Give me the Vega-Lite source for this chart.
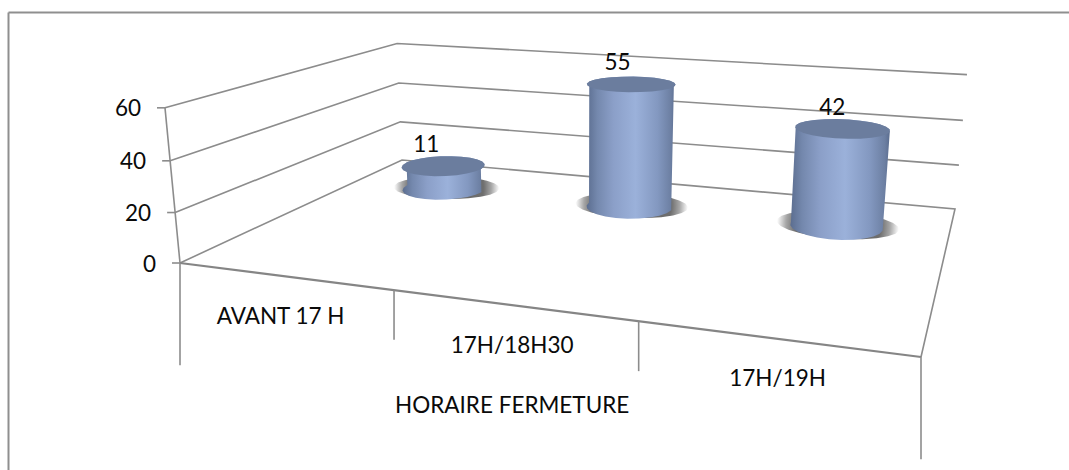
{
"$schema":"https://vega.github.io/schema/vega-lite/v6.json",
"width":1061,"height":458,
"padding":{"left":8,"top":12,"right":0,"bottom":0},
"autosize":"none",
"background":"white",
"config":{"view":{"stroke":null},"text":{"font":"Lato","fontSize":22.5,"color":"#0a0a0a"}},
"datasets":{
"bars":[{"cat":"AVANT 17 H","value":11},{"cat":"17H/18H30","value":55},{"cat":"17H/19H","value":42}],
"frame":[
{"path":"g60","seq":0,"u":0,"v":0,"val":60},{"path":"g60","seq":1,"u":0,"v":1,"val":60},{"path":"g60","seq":2,"u":3,"v":1,"val":60},
{"path":"g40","seq":0,"u":0,"v":0,"val":40},{"path":"g40","seq":1,"u":0,"v":1,"val":40},{"path":"g40","seq":2,"u":3,"v":1,"val":40},
{"path":"g20","seq":0,"u":0,"v":0,"val":20},{"path":"g20","seq":1,"u":0,"v":1,"val":20},{"path":"g20","seq":2,"u":3,"v":1,"val":20},
{"path":"g0","seq":0,"u":0,"v":0,"val":0},{"path":"g0","seq":1,"u":0,"v":1,"val":0},{"path":"g0","seq":2,"u":3,"v":1,"val":0},{"path":"g0","seq":3,"u":3,"v":0,"val":0},
{"path":"wall","seq":0,"u":0,"v":0,"val":0},{"path":"wall","seq":1,"u":0,"v":0,"val":60}
],
"front":[{"path":"front","seq":0,"u":0,"v":0,"val":0},{"path":"front","seq":1,"u":3,"v":0,"val":0}],
"valueTicks":[{"u":0,"v":0,"val":0},{"u":0,"v":0,"val":20},{"u":0,"v":0,"val":40},{"u":0,"v":0,"val":60}],
"catTicks":[{"u":0,"v":0,"val":0,"drop":-42},{"u":1,"v":0,"val":0,"drop":-19},{"u":2,"v":0,"val":0,"drop":-18},{"u":3,"v":0,"val":0,"drop":-35}]
},
"encoding":{
"x":{"field":"sx","type":"quantitative","title":null,"scale":{"domain":[8,1069]},"axis":{"orient":"top","labels":false,"ticks":false,"grid":false,"domainColor":"#8f8f8f","domainWidth":2}},
"y":{"field":"sy","type":"quantitative","title":null,"scale":{"domain":[470,12]},"axis":{"orient":"left","labels":false,"ticks":false,"grid":false,"domainColor":"#8f8f8f","domainWidth":2}}
},
"layer":[
{"data":{"name":"frame"},
"transform":[
{"calculate":"1-0.18768*datum.u/3+0.3515*datum.v-0.03606*datum.val/60","as":"w"},
{"calculate":"(180+568.15*datum.u/3+363.3*datum.v-20.95*datum.val/60)/datum.w","as":"sx"},
{"calculate":"(263+27*datum.u/3-46.76*datum.v-159.06*datum.val/60)/datum.w","as":"sy"}],
"mark":{"type":"line","color":"#8c8c8c","strokeWidth":1.6},
"encoding":{"detail":{"field":"path"},"order":{"field":"seq","type":"quantitative"}}},
{"data":{"name":"front"},
"transform":[
{"calculate":"1-0.18768*datum.u/3+0.3515*datum.v-0.03606*datum.val/60","as":"w"},
{"calculate":"(180+568.15*datum.u/3+363.3*datum.v-20.95*datum.val/60)/datum.w","as":"sx"},
{"calculate":"(263+27*datum.u/3-46.76*datum.v-159.06*datum.val/60)/datum.w","as":"sy"}],
"mark":{"type":"line","color":"#858585","strokeWidth":2.2},
"encoding":{"detail":{"field":"path"},"order":{"field":"seq","type":"quantitative"}}},
{"data":{"name":"valueTicks"},
"transform":[
{"calculate":"1-0.18768*datum.u/3+0.3515*datum.v-0.03606*datum.val/60","as":"w"},
{"calculate":"(180+568.15*datum.u/3+363.3*datum.v-20.95*datum.val/60)/datum.w","as":"sx"},
{"calculate":"(263+27*datum.u/3-46.76*datum.v-159.06*datum.val/60)/datum.w","as":"sy"},
{"calculate":"datum.sx-8","as":"sxEnd"}],
"mark":{"type":"rule","color":"#8c8c8c","strokeWidth":1.6},
"encoding":{"x2":{"field":"sxEnd"}}},
{"data":{"name":"catTicks"},
"transform":[
{"calculate":"1-0.18768*datum.u/3+0.3515*datum.v-0.03606*datum.val/60","as":"w"},
{"calculate":"(180+568.15*datum.u/3+363.3*datum.v-20.95*datum.val/60)/datum.w","as":"sx"},
{"calculate":"(263+27*datum.u/3-46.76*datum.v-159.06*datum.val/60)/datum.w","as":"sy"},
{"calculate":"(263+27*datum.u/3-159.06*datum.drop/60)/(1-0.18768*datum.u/3-0.03606*datum.drop/60)","as":"syEnd"}],
"mark":{"type":"rule","color":"#8c8c8c","strokeWidth":1.6},
"encoding":{"y2":{"field":"syEnd"}}},
{"data":{"name":"valueTicks"},
"transform":[
{"calculate":"1-0.18768*datum.u/3+0.3515*datum.v-0.03606*datum.val/60","as":"w"},
{"calculate":"(180+568.15*datum.u/3+363.3*datum.v-20.95*datum.val/60)/datum.w","as":"sx"},
{"calculate":"(263+27*datum.u/3-46.76*datum.v-159.06*datum.val/60)/datum.w","as":"sy"}],
"mark":{"type":"text","align":"right","baseline":"middle","dx":-24,"dy":1.5},
"encoding":{"text":{"field":"val","type":"quantitative"}}},
{"data":{"name":"bars"},
"transform":[
{"calculate":"indexof(['AVANT 17 H','17H/18H30','17H/19H'],datum.cat)+0.5","as":"u"},
{"calculate":"0","as":"v"},{"calculate":"0","as":"val"},
{"calculate":"1-0.18768*datum.u/3+0.3515*datum.v-0.03606*datum.val/60","as":"w"},
{"calculate":"(180+568.15*datum.u/3+363.3*datum.v-20.95*datum.val/60)/datum.w+3*(datum.u-1.5)","as":"sx"},
{"calculate":"(263+27*datum.u/3-46.76*datum.v-159.06*datum.val/60)/datum.w","as":"sy"}],
"mark":{"type":"text","align":"center","baseline":"middle","dy":41},
"encoding":{"text":{"field":"cat","type":"nominal"}}},
{"data":{"values":[{"title":"HORAIRE FERMETURE","u":1.5,"v":0,"val":0}]},
"transform":[
{"calculate":"1-0.18768*datum.u/3+0.3515*datum.v-0.03606*datum.val/60","as":"w"},
{"calculate":"(180+568.15*datum.u/3+363.3*datum.v-20.95*datum.val/60)/datum.w","as":"sx"},
{"calculate":"(263+27*datum.u/3-46.76*datum.v-159.06*datum.val/60)/datum.w","as":"sy"}],
"mark":{"type":"text","align":"center","baseline":"middle","dy":101},
"encoding":{"text":{"field":"title","type":"nominal"}}},
{"data":{"name":"bars"},
"transform":[
{"calculate":"indexof(['AVANT 17 H','17H/18H30','17H/19H'],datum.cat)+0.5","as":"u0"},
{"calculate":"[0,15,30,45,60,75,90,105,120,135,150,165,180,195,210,225,240,255,270,285,300,315,330,345]","as":"theta"},
{"flatten":["theta"]},
{"calculate":"datum.u0+0.28*cos(datum.theta*PI/180)","as":"u"},
{"calculate":"0.765-0.115*sin(datum.theta*PI/180)","as":"v"},
{"calculate":"0","as":"val"},
{"calculate":"1-0.18768*datum.u/3+0.3515*datum.v-0.03606*datum.val/60","as":"w"},
{"calculate":"(180+568.15*datum.u/3+363.3*datum.v-20.95*datum.val/60)/datum.w","as":"sx"},
{"calculate":"(263+27*datum.u/3-46.76*datum.v-159.06*datum.val/60)/datum.w","as":"sy"}],
"mark":{"type":"line","interpolate":"linear-closed","stroke":null,"fill":{"gradient":"radial","x1":0.5,"y1":0.5,"r1":0,"x2":0.5,"y2":0.5,"r2":0.5,"stops":[{"offset":0,"color":"#666666"},{"offset":0.7,"color":"#6e6e6e"},{"offset":0.85,"color":"#a6a6a6"},{"offset":1,"color":"#ffffff"}]}},
"encoding":{"detail":{"field":"cat"},"order":{"field":"theta","type":"quantitative"}}},
{"data":{"name":"bars"},
"transform":[
{"calculate":"indexof(['AVANT 17 H','17H/18H30','17H/19H'],datum.cat)+0.5","as":"u0"},
{"calculate":"[0,15,30,45,60,75,90,105,120,135,150,165,180,180.01,195,210,225,240,255,270,285,300,315,330,345,360]","as":"theta"},
{"flatten":["theta"]},
{"calculate":"datum.u0+0.21*cos(datum.theta*PI/180)","as":"u"},
{"calculate":"0.75-0.11*sin(datum.theta*PI/180)","as":"v"},
{"calculate":"datum.theta<=180?0:datum.value","as":"val"},
{"calculate":"1-0.18768*datum.u/3+0.3515*datum.v-0.03606*datum.val/60","as":"w"},
{"calculate":"(180+568.15*datum.u/3+363.3*datum.v-20.95*datum.val/60)/datum.w","as":"sx"},
{"calculate":"(263+27*datum.u/3-46.76*datum.v-159.06*datum.val/60)/datum.w","as":"sy"}],
"mark":{"type":"line","interpolate":"linear-closed","stroke":null,"fill":{"gradient":"linear","x1":0,"y1":0,"x2":1,"y2":0,"stops":[{"offset":0,"color":"#5b6d8f"},{"offset":0.12,"color":"#7488ad"},{"offset":0.3,"color":"#8b9fc8"},{"offset":0.55,"color":"#9bb1da"},{"offset":0.8,"color":"#8398c0"},{"offset":0.95,"color":"#6c7fa2"},{"offset":1,"color":"#5b6d8f"}]}},
"encoding":{"detail":{"field":"cat"},"order":{"field":"theta","type":"quantitative"}}},
{"data":{"name":"bars"},
"transform":[
{"calculate":"indexof(['AVANT 17 H','17H/18H30','17H/19H'],datum.cat)+0.5","as":"u0"},
{"calculate":"[0,15,30,45,60,75,90,105,120,135,150,165,180,195,210,225,240,255,270,285,300,315,330,345]","as":"theta"},
{"flatten":["theta"]},
{"calculate":"datum.u0+0.21*cos(datum.theta*PI/180)","as":"u"},
{"calculate":"0.75-0.11*sin(datum.theta*PI/180)","as":"v"},
{"calculate":"datum.value","as":"val"},
{"calculate":"1-0.18768*datum.u/3+0.3515*datum.v-0.03606*datum.val/60","as":"w"},
{"calculate":"(180+568.15*datum.u/3+363.3*datum.v-20.95*datum.val/60)/datum.w","as":"sx"},
{"calculate":"(263+27*datum.u/3-46.76*datum.v-159.06*datum.val/60)/datum.w","as":"sy"}],
"mark":{"type":"line","interpolate":"linear-closed","stroke":null,"fill":"#6b7d9e"},
"encoding":{"detail":{"field":"cat"},"order":{"field":"theta","type":"quantitative"}}},
{"data":{"name":"bars"},
"transform":[
{"calculate":"indexof(['AVANT 17 H','17H/18H30','17H/19H'],datum.cat)+0.5","as":"u"},
{"calculate":"0.75","as":"v"},
{"calculate":"datum.value","as":"val"},
{"calculate":"1-0.18768*datum.u/3+0.3515*datum.v-0.03606*datum.val/60","as":"w"},
{"calculate":"(180+568.15*datum.u/3+363.3*datum.v-20.95*datum.val/60)/datum.w-17+3.5*(datum.u-0.5)","as":"sx"},
{"calculate":"(263+27*datum.u/3-46.76*datum.v-159.06*datum.val/60)/datum.w","as":"sy"}],
"mark":{"type":"text","align":"center","baseline":"middle","dy":-21},
"encoding":{"text":{"field":"value","type":"quantitative"}}}
]
}
